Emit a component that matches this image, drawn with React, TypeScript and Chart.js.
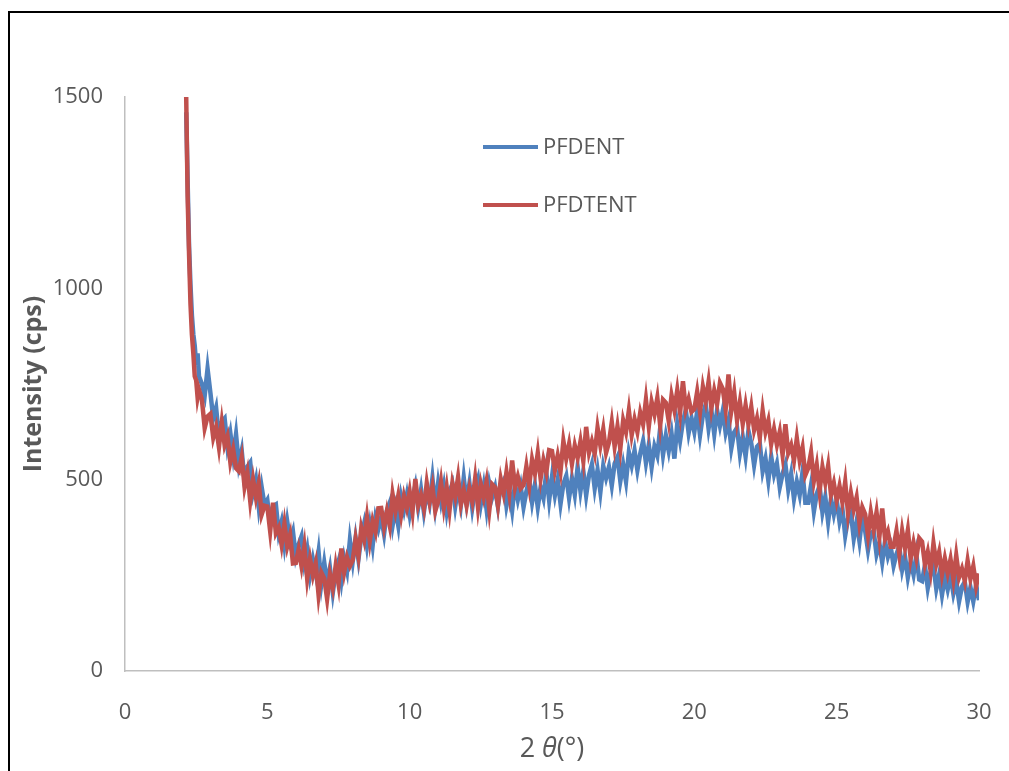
import React, { useEffect, useRef } from 'react';
import { Chart, registerables } from 'chart.js';

Chart.register(...registerables);

// ---- Data ----
const SERIES_NAMES = ['PFDENT', 'PFDTENT'];
const SERIES_COLORS = ['#4F81BD', '#C0504D'];
const X_TICK_STEP = 5;
const Y_TICK_STEP = 500;
const X_MIN = 0;
const X_MAX = 30;
const Y_MIN = 0;
const Y_MAX = 1500;
const Y_TITLE = 'Intensity (cps)';

// steep low-angle head of the scans (2θ in degrees)
const HEAD_ANGLES = [2.15, 2.2, 2.25, 2.3, 2.35, 2.4, 2.45, 2.5, 2.55, 2.6];
const HEAD_PFDENT = [1460, 1280, 1110, 1010, 930, 880, 850, 800, 830, 770];
const HEAD_PFDTENT = [1500, 1240, 1090, 960, 880, 830, 770, 760, 715, 735];

// main scan: 2θ = 2.7 .. 30.0, step 0.1
const SCAN_START = 2.7;
const SCAN_STEP = 0.1;

const PFDENT = [
  750, 720, 790,
  727, 660, 688, 612, 651, 660, 586, 622, 563, 619,
  540, 576, 497, 534, 545, 467, 500, 428, 481, 434,
  447, 386, 430, 435, 360, 390, 330, 390, 340, 365,
  300, 331, 352, 283, 319, 250, 292, 254, 311, 229,
  283, 230, 269, 205, 259, 286, 235, 295, 261, 342,
  287, 347, 292, 351, 385, 328, 381, 328, 400, 371,
  402, 358, 419, 440, 380, 425, 380, 455, 420, 460,
  409, 452, 485, 427, 474, 416, 467, 438, 504, 430,
  491, 442, 483, 418, 469, 489, 430, 480, 435, 505,
  440, 490, 426, 476, 502, 437, 483, 423, 489, 454,
  480, 430, 484, 498, 432, 471, 420, 489, 448, 483,
  428, 469, 500, 441, 487, 428, 480, 452, 519, 446,
  507, 459, 500, 437, 489, 510, 452, 504, 461, 533,
  470, 522, 459, 512, 540, 477, 525, 468, 536, 504,
  533, 485, 542, 559, 496, 540, 495, 571, 537, 576,
  525, 568, 601, 544, 591, 533, 587, 563, 634, 565,
  615, 575, 620, 555, 646, 602, 652, 682, 622, 661,
  625, 678, 616, 669, 697, 634, 680, 619, 681, 641,
  680, 623, 655, 582, 624, 636, 568, 612, 561, 628,
  595, 538, 586, 594, 522, 555, 498, 561, 514, 542,
  480, 515, 540, 475, 515, 450, 495, 460, 520, 440,
  440, 486, 417, 463, 484, 415, 455, 390, 450, 410,
  447, 391, 425, 354, 398, 412, 346, 390, 339, 403,
  367, 316, 361, 365, 305, 334, 284, 339, 299, 324,
  275, 305, 325, 265, 300, 245, 286, 252, 303, 239,
  235, 276, 217, 258, 274, 215, 252, 199, 246, 213,
  250, 202, 235, 182, 220, 233, 181, 219, 182, 225,
  185,
];

const PFDTENT = [
  710, 635, 665,
  672, 610, 638, 585, 650, 590, 613, 546, 579, 530,
  522, 559, 481, 518, 444, 500, 453, 491, 409, 432,
  430, 365, 440, 360, 375, 330, 385, 326, 356, 281,
  282, 318, 274, 325, 241, 293, 250, 282, 199, 257,
  242, 188, 253, 217, 275, 227, 320, 258, 297, 274,
  290, 345, 300, 374, 343, 402, 340, 392, 364, 425,
  426, 377, 418, 380, 462, 418, 458, 408, 457, 426,
  469, 416, 502, 433, 459, 425, 491, 442, 482, 418,
  443, 494, 429, 480, 420, 490, 456, 506, 436, 472,
  432, 477, 443, 503, 428, 488, 454, 495, 421, 488,
  480, 433, 501, 465, 520, 465, 550, 479, 508, 477,
  486, 535, 484, 552, 516, 570, 503, 551, 519, 577,
  575, 524, 563, 522, 601, 555, 593, 541, 589, 557,
  600, 549, 638, 571, 600, 568, 636, 589, 632, 570,
  597, 650, 587, 639, 581, 655, 625, 681, 617, 658,
  625, 675, 645, 709, 639, 703, 671, 714, 642, 709,
  701, 653, 720, 682, 734, 675, 757, 684, 711, 677,
  684, 730, 677, 743, 705, 756, 687, 733, 698, 753,
  737, 684, 775, 680, 728, 655, 703, 646, 695, 645,
  690, 630, 660, 610, 680, 625, 654, 593, 632, 591,
  625, 565, 645, 570, 590, 550, 608, 551, 584, 512,
  530, 571, 497, 538, 470, 533, 492, 536, 461, 491,
  446, 483, 441, 494, 412, 465, 422, 454, 386, 428,
  410, 355, 415, 370, 415, 350, 425, 345, 365, 325,
  325, 366, 306, 367, 322, 368, 294, 335, 296, 347,
  338, 279, 311, 262, 334, 280, 311, 253, 294, 256,
  292, 240, 302, 245, 267, 235, 288, 241, 274, 222,
  255,
];

function buildPoints(head: number[], scan: number[]) {
  const pts = HEAD_ANGLES.map((a, i) => ({ x: a, y: head[i] }));
  scan.forEach((v, i) => {
    pts.push({ x: Math.round((SCAN_START + i * SCAN_STEP) * 100) / 100, y: v });
  });
  return pts;
}

const TEXT_COLOR = '#595959';
const FONT = '"Open Sans", "Noto Sans", sans-serif';

const legendPlugin = {
  id: 'insideLegend',
  afterDraw(chart: any) {
    const { ctx, chartArea } = chart;
    const rows = [147, 205];
    ctx.save();
    chart.data.datasets.forEach((ds: any, i: number) => {
      const y = rows[i];
      const x0 = chartArea.left + 358;
      ctx.strokeStyle = ds.borderColor;
      ctx.lineWidth = 4;
      ctx.lineCap = 'butt';
      ctx.beginPath();
      ctx.moveTo(x0, y);
      ctx.lineTo(x0 + 55, y);
      ctx.stroke();
      ctx.fillStyle = TEXT_COLOR;
      ctx.font = `22px ${FONT}`;
      ctx.textBaseline = 'middle';
      ctx.textAlign = 'left';
      ctx.fillText(ds.label, x0 + 60, y + 1);
    });
    ctx.restore();
  },
};

const xTitlePlugin = {
  id: 'xTitle',
  afterDraw(chart: any) {
    const { ctx, chartArea } = chart;
    const cx = (chartArea.left + chartArea.right) / 2;
    const y = 749;
    const parts = [
      { t: '2 ', f: `27px ${FONT}` },
      { t: 'θ', f: `italic 27px ${FONT}` },
      { t: '(°)', f: `27px ${FONT}` },
    ];
    ctx.save();
    let total = 0;
    const widths = parts.map((p) => {
      ctx.font = p.f;
      const w = ctx.measureText(p.t).width;
      total += w;
      return w;
    });
    let x = cx - total / 2;
    ctx.fillStyle = TEXT_COLOR;
    ctx.textBaseline = 'middle';
    ctx.textAlign = 'left';
    parts.forEach((p, i) => {
      ctx.font = p.f;
      ctx.fillText(p.t, x, y);
      x += widths[i];
    });
    ctx.restore();
  },
};

export default function App() {
  const canvasRef = useRef<HTMLCanvasElement | null>(null);

  useEffect(() => {
    if (!canvasRef.current) return;
    const chart = new Chart(canvasRef.current, {
      type: 'line',
      data: {
        datasets: [
          {
            label: SERIES_NAMES[0],
            data: buildPoints(HEAD_PFDENT, PFDENT),
            borderColor: SERIES_COLORS[0],
            backgroundColor: SERIES_COLORS[0],
            borderWidth: 4.5,
            pointRadius: 0,
            tension: 0,
            order: 2,
          },
          {
            label: SERIES_NAMES[1],
            data: buildPoints(HEAD_PFDTENT, PFDTENT),
            borderColor: SERIES_COLORS[1],
            backgroundColor: SERIES_COLORS[1],
            borderWidth: 4.5,
            pointRadius: 0,
            tension: 0,
            order: 1,
          },
        ],
      },
      options: {
        animation: false,
        responsive: false,
        layout: { padding: { left: 0, top: 97, right: 30, bottom: 0 } },
        plugins: {
          legend: { display: false },
          tooltip: { enabled: false },
        },
        scales: {
          x: {
            type: 'linear',
            min: X_MIN,
            max: X_MAX,
            afterFit: (s: any) => {
              s.height = 100;
              s.paddingLeft = 0;
              s.paddingRight = 0;
            },
            ticks: {
              stepSize: X_TICK_STEP,
              padding: 29,
              color: TEXT_COLOR,
              font: { family: FONT, size: 22 },
              callback: (v: any) => String(v),
            },
            grid: { display: false, drawTicks: false },
            border: { display: true, color: '#BFBFBF', width: 1.5 },
          },
          y: {
            type: 'linear',
            min: Y_MIN,
            max: Y_MAX,
            afterFit: (s: any) => {
              s.width = 125;
              s.paddingTop = 0;
              s.paddingBottom = 0;
            },
            ticks: {
              stepSize: Y_TICK_STEP,
              padding: 22,
              color: TEXT_COLOR,
              font: { family: FONT, size: 22 },
              callback: (v: any) => String(v),
            },
            grid: { display: false, drawTicks: false },
            border: { display: true, color: '#BFBFBF', width: 1.5 },
            title: {
              display: true,
              text: Y_TITLE,
              color: TEXT_COLOR,
              font: { family: FONT, size: 25, weight: 'bold' },
              padding: { top: 19, bottom: 0 },
            },
          },
        },
      },
      plugins: [legendPlugin, xTitlePlugin],
    } as any);
    return () => chart.destroy();
  }, []);

  return (
    <div
      style={{
        position: 'absolute',
        left: 0,
        top: 0,
        width: 1009,
        height: 771,
        overflow: 'hidden',
        background: '#ffffff',
      }}
    >
      <div
        style={{
          position: 'absolute',
          left: 8,
          top: 11,
          width: 2000,
          height: 2000,
          borderLeft: '2px solid #000',
          borderTop: '2px solid #000',
        }}
      />
      <canvas
        ref={canvasRef}
        width={1009}
        height={771}
        style={{ position: 'absolute', left: 0, top: 0 }}
      />
    </div>
  );
}
